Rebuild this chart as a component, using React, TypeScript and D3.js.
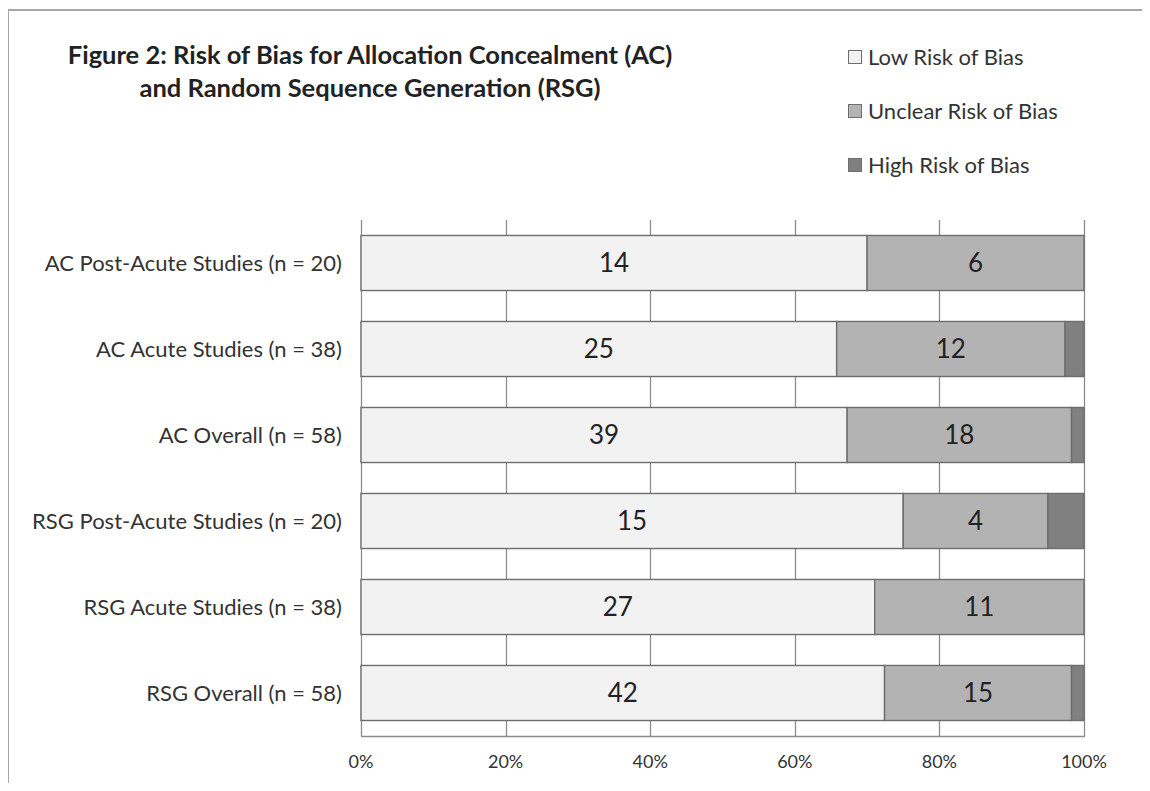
import React, { useEffect, useRef } from "react";
import * as d3 from "d3";

// rows, top to bottom
const categories = [
  "AC Post-Acute Studies (n = 20)",
  "AC Acute Studies (n = 38)",
  "AC Overall (n = 58)",
  "RSG Post-Acute Studies (n = 20)",
  "RSG Acute Studies (n = 38)",
  "RSG Overall (n = 58)",
];
const seriesNames = ["Low Risk of Bias", "Unclear Risk of Bias", "High Risk of Bias"];
const lowRisk = [14, 25, 39, 15, 27, 42];
const unclearRisk = [6, 12, 18, 4, 11, 15];
const highRisk = [0, 1, 1, 1, 0, 1];
const tickValues = [0, 0.2, 0.4, 0.6, 0.8, 1];
const titleLines = [
  "Figure 2: Risk of Bias for Allocation Concealment (AC)",
  "and Random Sequence Generation (RSG)",
];

const colors = ["#f2f2f2", "#b3b3b3", "#808080"];
const FONT = "Lato, 'Open Sans', sans-serif";

const App = () => {
  const svgRef = useRef<SVGSVGElement | null>(null);

  useEffect(() => {
    const svg = d3.select(svgRef.current);
    svg.selectAll("*").remove();

    const width = 1150;
    const height = 791;
    const plot = { left: 361, right: 1084, top: 220, bottom: 736 };

    svg.attr("width", width).attr("height", height);

    // chart frame (only top and left edges fall inside the picture)
    svg.append("path")
      .attr("d", `M8,${height} V10 H${width}`)
      .attr("fill", "none")
      .attr("stroke", "#a6a6a6")
      .attr("stroke-width", 2);

    const rows = categories.map((c, i) => {
      const vals = [lowRisk[i], unclearRisk[i], highRisk[i]];
      const total = d3.sum(vals);
      let acc = 0;
      const segs = vals.map((v, k) => {
        const s = { key: k, x0: acc / total, x1: (acc + v) / total, value: v };
        acc += v;
        return s;
      });
      return { cat: c, segs };
    });

    const x = d3.scaleLinear().domain([0, 1]).range([plot.left, plot.right]);
    const y = d3.scaleBand()
      .domain(categories)
      .range([plot.top, plot.bottom])
      .paddingInner(0.36)
      .paddingOuter(0.18);

    // gridlines
    svg.append("g")
      .selectAll("line")
      .data(tickValues)
      .join("line")
      .attr("x1", d => Math.round(x(d)) + 0.5)
      .attr("x2", d => Math.round(x(d)) + 0.5)
      .attr("y1", plot.top)
      .attr("y2", plot.bottom)
      .attr("stroke", "#8c8c8c")
      .attr("stroke-width", 1.3);

    // x axis baseline
    svg.append("line")
      .attr("x1", plot.left).attr("x2", plot.right + 1)
      .attr("y1", plot.bottom + 0.5).attr("y2", plot.bottom + 0.5)
      .attr("stroke", "#8c8c8c")
      .attr("stroke-width", 1.3);

    // bars
    const g = svg.append("g");
    rows.forEach(r => {
      r.segs.filter(s => s.value > 0).forEach(s => {
        g.append("rect")
          .attr("x", x(s.x0))
          .attr("y", y(r.cat)!)
          .attr("width", x(s.x1) - x(s.x0))
          .attr("height", y.bandwidth())
          .attr("fill", colors[s.key])
          .attr("stroke", "#6e6e6e")
          .attr("stroke-width", 1.4);
        if (s.key < 2) {
          g.append("text")
            .attr("x", (x(s.x0) + x(s.x1)) / 2)
            .attr("y", y(r.cat)! + y.bandwidth() / 2)
            .attr("dy", "0.36em")
            .attr("text-anchor", "middle")
            .attr("font-family", FONT)
            .attr("font-size", 26)
            .attr("fill", "#222")
            .text(s.value);
        }
      });
    });

    // category labels
    svg.append("g")
      .selectAll("text")
      .data(categories)
      .join("text")
      .attr("x", 342)
      .attr("y", d => y(d)! + y.bandwidth() / 2)
      .attr("dy", "0.35em")
      .attr("text-anchor", "end")
      .attr("font-family", FONT)
      .attr("font-size", 22)
      .attr("fill", "#333")
      .text(d => d);

    // tick labels
    svg.append("g")
      .selectAll("text")
      .data(tickValues)
      .join("text")
      .attr("x", d => x(d))
      .attr("y", 768)
      .attr("text-anchor", "middle")
      .attr("font-family", FONT)
      .attr("font-size", 18)
      .attr("fill", "#333")
      .text(d => d3.format(".0%")(d));

    // title
    svg.append("g")
      .selectAll("text")
      .data(titleLines)
      .join("text")
      .attr("x", 370)
      .attr("y", (d, i) => 64 + i * 33)
      .attr("text-anchor", "middle")
      .attr("font-family", FONT)
      .attr("font-weight", "bold")
      .attr("font-size", 25.5)
      .attr("fill", "#222")
      .text(d => d);

    // legend
    const leg = svg.append("g");
    seriesNames.forEach((name, i) => {
      const ly = 57 + i * 54;
      leg.append("rect")
        .attr("x", 848.5).attr("y", ly - 6.5)
        .attr("width", 13).attr("height", 13)
        .attr("fill", colors[i])
        .attr("stroke", "#6e6e6e");
      leg.append("text")
        .attr("x", 868)
        .attr("y", ly)
        .attr("dy", "0.35em")
        .attr("font-family", FONT)
        .attr("font-size", 22)
        .attr("fill", "#333")
        .text(name);
    });
  }, []);

  return <svg ref={svgRef} style={{ display: "block", margin: "-8px" }} />;
};

export default App;
